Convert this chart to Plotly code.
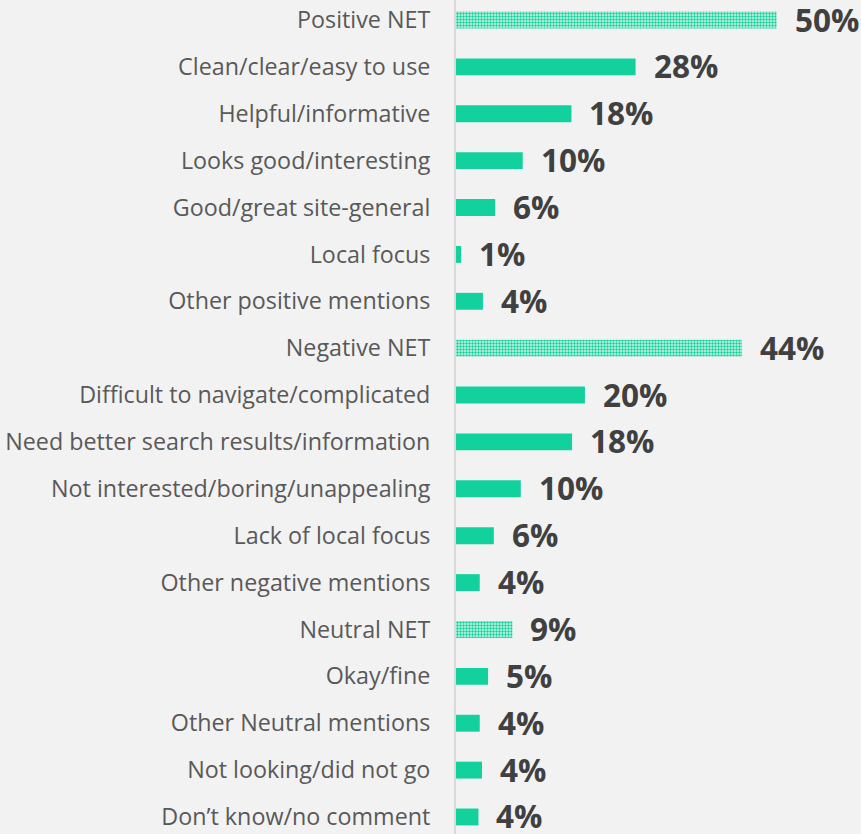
import plotly.graph_objects as go

categories = [
    "Positive NET", "Clean/clear/easy to use", "Helpful/informative",
    "Looks good/interesting", "Good/great site-general", "Local focus",
    "Other positive mentions", "Negative NET", "Difficult to navigate/complicated",
    "Need better search results/information", "Not interested/boring/unappealing",
    "Lack of local focus", "Other negative mentions", "Neutral NET", "Okay/fine",
    "Other Neutral mentions", "Not looking/did not go", "Don\u2019t know/no comment",
]
values = [50.0, 28.0, 18.0, 10.4, 6.1, 0.8, 4.2, 44.6, 20.1, 18.1, 10.1, 5.9, 3.7,
          8.8, 5.0, 3.7, 4.05, 3.5]
labels = ["50%", "28%", "18%", "10%", "6%", "1%", "4%", "44%", "20%", "18%", "10%",
          "6%", "4%", "9%", "5%", "4%", "4%", "4%"]
is_net = [c.endswith("NET") for c in categories]

ypos = list(range(len(categories)))
GREEN = "#12d19c"

fig = go.Figure()
net_idx = [i for i in ypos if is_net[i]]
sub_idx = [i for i in ypos if not is_net[i]]

fig.add_trace(go.Bar(
    x=[values[i] for i in sub_idx], y=sub_idx, orientation="h",
    marker=dict(color=GREEN, line=dict(width=0)), width=0.36,
    hoverinfo="skip",
))
fig.add_trace(go.Bar(
    x=[values[i] for i in net_idx], y=net_idx, orientation="h",
    marker=dict(color="#7fe3c6", line=dict(width=0),
                pattern=dict(shape=".", fgcolor=GREEN, bgcolor="#d2f5ea",
                             size=3, solidity=0.5, fillmode="replace")),
    width=0.36, hoverinfo="skip",
))

for i in ypos:
    fig.add_annotation(x=values[i], y=i, text="<b>" + labels[i] + "</b>",
                       showarrow=False, xanchor="left", yanchor="middle",
                       xshift=16, yshift=1,
                       font=dict(family="Open Sans", size=31.5, color="#404040"))

fig.update_layout(
    width=861, height=834,
    margin=dict(l=456, r=0, t=0, b=0),
    paper_bgcolor="#f2f2f2", plot_bgcolor="#f2f2f2",
    showlegend=False, barmode="overlay",
    xaxis=dict(range=[0, 405 / 6.414], visible=False, fixedrange=True),
    yaxis=dict(range=[17.363, -0.4266], tickvals=ypos, ticktext=categories,
               showgrid=False, zeroline=False, showline=True,
               linecolor="#d9d9d9", linewidth=2, ticks="",
               ticklabelstandoff=19,
               tickfont=dict(family="Open Sans", size=23.3, color="#595959")),
)

fig.write_html("out.html", config={"displayModeBar": False},
               post_script="document.body.style.margin='0';")
